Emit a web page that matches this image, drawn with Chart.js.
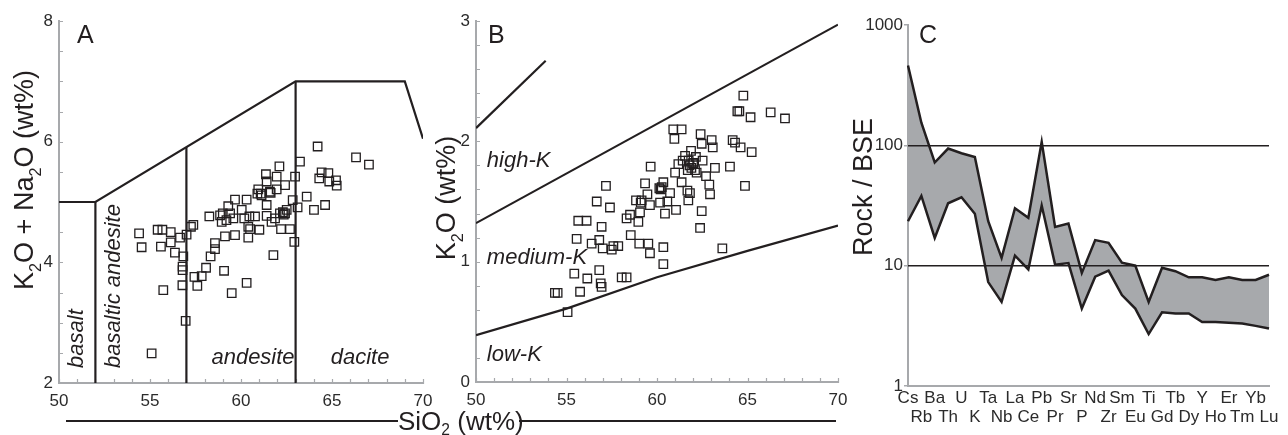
<!DOCTYPE html>
<html>
<head>
<meta charset="utf-8">
<script src="https://cdn.jsdelivr.net/npm/chart.js@4.4.1/dist/chart.umd.min.js"></script>
<style>
  html, body { margin: 0; padding: 0; background: #fff; }
  #wrap { position: relative; width: 1288px; height: 435px; overflow: hidden; }
  canvas { position: absolute; top: 0; }
  #siTitle { position: absolute; left: 66px; top: 406px; width: 770px; height: 30px;
             display: flex; align-items: center; white-space: nowrap;
             font: 26px "Liberation Sans", Arial, sans-serif; color: #231f20; }
  #siTitle .rule { height: 2px; background: #231f20; }
  #siTitle sub { font-size: 60%; vertical-align: -0.35em; line-height: 0; }
</style>
</head>
<body>
<div id="wrap">
  <canvas id="panelA" width="452" height="435" style="left:0"></canvas>
  <canvas id="panelB" width="430" height="435" style="left:430px"></canvas>
  <canvas id="panelC" width="438" height="435" style="left:850px"></canvas>
  <div id="siTitle"><div class="rule" style="width:332px"></div><span>SiO<sub>2</sub> (wt%)</span><div class="rule" style="flex:1;margin-left:-5px"></div></div>
</div>
<script>
// ---- A: total alkali vs silica ----
const sio2A = [54.40, 54.54, 55.09, 55.42, 55.68, 55.60, 55.73, 56.14, 56.14, 56.37, 56.65, 56.83, 56.79, 56.79,
  56.78, 56.96, 57.01, 57.25, 57.38, 57.44, 57.60, 57.84, 58.08, 58.26, 58.33, 58.57, 58.57, 58.85, 59.00, 58.94,
  59.07, 59.12, 59.30, 59.40, 59.49, 59.58, 59.67, 59.67, 60.04, 60.18, 60.31, 60.31, 60.40, 60.40, 60.46, 60.77,
  61.01, 60.90, 61.08, 61.37, 61.41, 61.59, 61.41, 61.41, 61.68, 61.78, 61.87, 61.96, 61.96, 62.11, 62.20, 62.42,
  62.42, 62.51, 62.69, 62.84, 62.97, 62.93, 63.11, 63.24, 63.61, 64.01, 64.21, 64.30, 64.43, 64.62, 64.80, 64.85,
  65.22, 65.26, 66.32, 67.03, 60.95, 61.13, 61.63, 62.14, 62.30, 62.35, 59.20, 60.50];
const alkA = [4.48, 4.25, 2.49, 4.54, 4.54, 4.26, 3.54, 4.50, 4.33, 4.16, 4.41, 4.10, 3.93, 3.87,
  3.62, 3.03, 4.46, 4.59, 4.62, 3.76, 3.61, 3.77, 3.91, 4.76, 4.10, 4.22, 4.32, 4.78, 4.81, 4.67,
  3.86, 4.43, 4.93, 4.81, 3.49, 4.73, 5.04, 4.45, 4.87, 4.73, 5.04, 3.66, 4.59, 4.41, 4.76, 4.76,
  4.54, 5.14, 5.14, 5.46, 5.34, 5.17, 4.95, 4.77, 4.67, 4.12, 4.73, 5.42, 5.21, 5.59, 4.55, 4.81,
  5.28, 4.87, 4.55, 5.03, 5.42, 4.34, 4.91, 5.67, 5.09, 4.87, 5.92, 5.39, 5.49, 4.95, 5.48, 5.34,
  5.36, 5.27, 5.74, 5.62, 5.21, 5.11, 5.15, 4.81, 4.83, 4.79, 4.70, 4.55];
// field boundaries [SiO2, alkali]
const tasOuter = [[50, 5], [52, 5], [63, 7], [69, 7], [70, 6.05]];
const tasDividers = [[[52, 2], [52, 5]], [[57, 2], [57, 5.91]], [[63, 2], [63, 7]]];

// ---- B: K2O vs silica ----
const sio2B = [54.36, 54.51, 55.06, 55.43, 55.56, 55.65, 56.11, 55.75, 56.15, 56.39, 56.67, 56.81, 56.81, 56.89,
  56.94, 56.94, 57.00, 57.18, 57.40, 57.50, 57.59, 57.86, 58.05, 58.32, 58.32, 58.51, 58.55, 58.84, 58.97, 59.02,
  59.06, 59.15, 59.34, 59.47, 59.52, 59.61, 59.61, 59.65, 60.13, 60.17, 60.26, 60.35, 60.35, 60.35, 60.44, 60.57,
  60.72, 60.90, 60.96, 61.00, 61.05, 61.18, 61.36, 61.36, 61.42, 61.55, 61.68, 61.73, 61.82, 61.88, 62.00, 62.10,
  62.15, 62.19, 62.38, 62.41, 62.47, 62.47, 62.52, 62.71, 62.89, 62.93, 63.02, 63.08, 63.20, 63.61, 64.03, 64.18,
  64.31, 64.44, 64.55, 64.62, 64.77, 64.86, 65.17, 65.23, 66.28, 67.07, 61.80, 61.90, 62.00, 61.70, 61.75, 60.20, 59.10];
const k2oB = [0.74, 0.74, 0.58, 0.90, 1.19, 1.34, 1.34, 0.75, 0.86, 1.15, 1.50, 0.93, 1.18, 0.82,
  0.79, 1.29, 1.11, 1.63, 1.45, 1.10, 1.13, 1.13, 0.87, 0.87, 1.36, 1.39, 1.22, 1.51, 1.33, 1.15,
  1.41, 1.51, 1.65, 1.56, 1.15, 1.07, 1.47, 1.79, 1.61, 1.49, 1.62, 1.66, 1.12, 0.98, 1.40, 1.50,
  1.57, 2.10, 2.02, 1.74, 1.43, 1.81, 2.10, 1.66, 1.84, 1.88, 1.59, 1.51, 1.57, 1.92, 1.81, 1.76,
  1.87, 1.74, 1.28, 2.06, 1.98, 1.42, 1.84, 1.71, 1.64, 1.56, 2.01, 1.95, 1.78, 1.11, 1.79, 2.01,
  1.99, 2.25, 2.25, 1.95, 2.38, 1.63, 2.20, 1.91, 2.24, 2.19, 1.80, 1.78, 1.82, 1.76, 1.84, 1.60, 1.49];
const shoshoniteLine = [[50, 2.11], [53.85, 2.67]];
const highKLine = [[50, 1.32], [70, 2.97]];
const lowKLine = [[50, 0.39], [55, 0.61], [60, 0.87], [65, 1.09], [70, 1.30]];

// ---- C: trace elements normalised to bulk silicate earth ----
const elements = ['Cs', 'Rb', 'Ba', 'Th', 'U', 'K', 'Ta', 'Nb', 'La', 'Ce', 'Pb', 'Pr', 'Sr', 'P',
  'Nd', 'Zr', 'Sm', 'Eu', 'Ti', 'Gd', 'Tb', 'Dy', 'Y', 'Ho', 'Er', 'Tm', 'Yb', 'Lu'];
const bseUpper = [460, 154, 72, 94, 86, 80, 23.4, 11.6, 30, 25, 107, 21, 22.4, 8.7,
  16.3, 15.5, 10.6, 10, 5.0, 9.6, 9.0, 8.0, 8.0, 7.6, 8.0, 7.6, 7.6, 8.4];
const bseLower = [23.4, 38, 17, 33, 37, 27, 7.3, 5.0, 12.1, 9.3, 31.6, 10.2, 10.5, 4.4,
  8.1, 9.1, 5.7, 4.4, 2.7, 4.1, 4.0, 4.0, 3.4, 3.4, 3.35, 3.3, 3.16, 3.0];

const INK = '#231f20';
const AXIS_GREY = '#a7a9ac';
const FONT = "'Liberation Sans', Arial, sans-serif";
Chart.defaults.font.family = FONT;
Chart.defaults.color = '#2b2b2b';

const pts = pairs => pairs.map(([x, y]) => ({ x, y }));
const lineSet = pairs => ({ data: pts(pairs), showLine: true, pointRadius: 0, borderColor: INK, borderWidth: 2.2, fill: false });
const sampleSet = (xs, ys) => ({
  data: xs.map((x, i) => ({ x, y: ys[i] })),
  pointStyle: 'rect', radius: 6, borderColor: INK, borderWidth: 1.3, backgroundColor: 'rgba(0,0,0,0)'
});

// pin axis box sizes so the plot areas line up across the three canvases
const fixBox = (w, h) => s => {
  if (w !== null) s.width = w;
  if (h !== null) s.height = h;
  s.paddingLeft = s.paddingRight = s.paddingTop = s.paddingBottom = 0;
};

// grey L-shaped axis frame plus small inward tick marks
const axisFrame = {
  id: 'axisFrame',
  beforeDatasetsDraw(chart, args, opts) {
    const { ctx, chartArea: a, scales: { x, y } } = chart;
    ctx.save();
    ctx.strokeStyle = AXIS_GREY;
    ctx.lineWidth = 2;
    ctx.beginPath();
    ctx.moveTo(a.left, a.top - 1);
    ctx.lineTo(a.left, a.bottom);
    ctx.lineTo(a.right + 1, a.bottom);
    ctx.stroke();
    if (opts.x) {
      ctx.lineWidth = 1.2;
      ctx.beginPath();
      for (let v = x.min; v <= x.max + 1e-9; v += opts.x) {
        const px = Math.round(x.getPixelForValue(v)) + 0.5;
        ctx.moveTo(px, a.bottom + 1); ctx.lineTo(px, a.bottom - 4);
      }
      for (let v = y.min; v <= y.max + 1e-9; v += opts.y) {
        const py = Math.round(y.getPixelForValue(v)) + 0.5;
        ctx.moveTo(a.left - 1, py); ctx.lineTo(a.left + 4, py);
      }
      ctx.stroke();
    }
    ctx.restore();
  }
};

// text with subscripts: parts beginning with '_' are lowered and shrunk
function drawRich(ctx, parts, size) {
  let w = 0;
  const runs = parts.map(p => {
    const sub = p.startsWith('_');
    const t = sub ? p.slice(1) : p;
    ctx.font = `${sub ? size * 0.6 : size}px ${FONT}`;
    const rw = ctx.measureText(t).width;
    w += rw;
    return { t, sub, rw };
  });
  let x = -w / 2;
  ctx.textAlign = 'left';
  ctx.textBaseline = 'alphabetic';
  for (const r of runs) {
    ctx.font = `${r.sub ? size * 0.6 : size}px ${FONT}`;
    ctx.fillText(r.t, x, r.sub ? size * 0.28 : 0);
    x += r.rw;
  }
}

// axis title, panel letter and field names
const annotate = {
  id: 'annotate',
  afterDatasetsDraw(chart, args, opts) {
    const { ctx, scales: { x, y } } = chart;
    ctx.save();
    ctx.fillStyle = INK;
    if (opts.title) {
      const t = opts.title;
      ctx.save();
      ctx.translate(t.x, t.y);
      ctx.rotate(-Math.PI / 2);
      drawRich(ctx, t.parts, 27);
      ctx.restore();
    }
    if (opts.letter) {
      ctx.font = `25px ${FONT}`;
      ctx.textAlign = 'left';
      ctx.textBaseline = 'alphabetic';
      ctx.fillText(opts.letter.text, opts.letter.x, opts.letter.y);
    }
    ctx.font = `italic 22px ${FONT}`;
    ctx.textBaseline = 'middle';
    for (const f of opts.fields || []) {
      const px = x.getPixelForValue(f.x), py = y.getPixelForValue(f.y);
      ctx.save();
      ctx.translate(px, py);
      if (f.upright) ctx.rotate(-Math.PI / 2);
      ctx.textAlign = f.align || 'center';
      ctx.fillText(f.text, 0, 0);
      ctx.restore();
    }
    ctx.restore();
  }
};

const baseOpts = {
  responsive: false,
  animation: false,
  devicePixelRatio: 1,
  events: []
};
const linAxis = (min, max, step, pad, fit) => ({
  min, max,
  ticks: { stepSize: step, padding: pad, font: { size: 17 } },
  grid: { display: false, drawTicks: false },
  border: { display: false },
  afterFit: fit
});

new Chart(document.getElementById('panelA'), {
  type: 'scatter',
  data: {
    datasets: [lineSet(tasOuter), ...tasDividers.map(lineSet), sampleSet(sio2A, alkA)]
  },
  options: {
    ...baseOpts,
    layout: { padding: { left: 0, top: 21, right: 29, bottom: 0 } },
    plugins: {
      legend: { display: false },
      tooltip: { enabled: false },
      axisFrame: { x: 1, y: 0.5 },
      annotate: {
        title: { parts: ['K', '_2', 'O + Na', '_2', 'O (wt%)'], x: 33, y: 180 },
        letter: { text: 'A', x: 77, y: 43 },
        fields: [
          { text: 'basalt', x: 51.0, y: 2.25, upright: true, align: 'left' },
          { text: 'basaltic andesite', x: 53.02, y: 2.25, upright: true, align: 'left' },
          { text: 'andesite', x: 60.66, y: 2.41 },
          { text: 'dacite', x: 66.54, y: 2.41 }
        ]
      }
    },
    scales: {
      x: linAxis(50, 70, 5, 8, fixBox(null, 52)),
      y: linAxis(2, 8, 2, 6, fixBox(59, null))
    }
  },
  plugins: [axisFrame, annotate]
});

new Chart(document.getElementById('panelB'), {
  type: 'scatter',
  data: {
    datasets: [lineSet(shoshoniteLine), lineSet(highKLine), lineSet(lowKLine), sampleSet(sio2B, k2oB)]
  },
  options: {
    ...baseOpts,
    layout: { padding: { left: 0, top: 21, right: 22, bottom: 0 } },
    plugins: {
      legend: { display: false },
      tooltip: { enabled: false },
      axisFrame: { x: 1, y: 0.2 },
      annotate: {
        title: { parts: ['K', '_2', 'O (wt%)'], x: 25, y: 198 },
        letter: { text: 'B', x: 58, y: 43 },
        fields: [
          { text: 'high-K', x: 50.6, y: 1.84, align: 'left' },
          { text: 'medium-K', x: 50.6, y: 1.03, align: 'left' },
          { text: 'low-K', x: 50.6, y: 0.225, align: 'left' }
        ]
      }
    },
    scales: {
      x: linAxis(50, 70, 5, 8, fixBox(null, 53)),
      y: linAxis(0, 3, 1, 6, fixBox(46, null))
    }
  },
  plugins: [axisFrame, annotate]
});

new Chart(document.getElementById('panelC'), {
  type: 'line',
  data: {
    labels: elements,
    datasets: [
      { data: bseUpper, borderColor: INK, borderWidth: 2.5, pointRadius: 0, tension: 0,
        fill: '+1', backgroundColor: '#a7a9ac' },
      { data: bseLower, borderColor: INK, borderWidth: 2.5, pointRadius: 0, tension: 0, fill: false }
    ]
  },
  options: {
    ...baseOpts,
    layout: { padding: { left: 0, top: 25, right: 19, bottom: 0 } },
    plugins: {
      legend: { display: false },
      tooltip: { enabled: false },
      filler: { drawTime: 'beforeDatasetsDraw' },
      axisFrame: {},
      annotate: {
        title: { parts: ['Rock / BSE'], x: 22, y: 187 },
        letter: { text: 'C', x: 69, y: 43 }
      }
    },
    scales: {
      x: {
        offset: false,
        ticks: {
          autoSkip: false, maxRotation: 0, minRotation: 0, padding: 3,
          font: { size: 17, lineHeight: 1.12 },
          // alternate element names between two rows
          callback: (v, i) => i % 2 === 0 ? [elements[i], ''] : ['', elements[i]]
        },
        grid: { display: false, drawTicks: false },
        border: { display: false },
        afterFit: fixBox(null, 49)
      },
      y: {
        type: 'logarithmic',
        min: 1, max: 1000,
        afterBuildTicks: s => { s.ticks = [1, 10, 100, 1000].map(value => ({ value })); },
        ticks: { padding: 1, font: { size: 17 }, callback: v => String(v) },
        grid: {
          z: 1,
          drawTicks: true, tickLength: 4, tickColor: AXIS_GREY,
          lineWidth: 1.5,
          color: c => (c.tick && (c.tick.value === 10 || c.tick.value === 100)) ? INK : 'rgba(0,0,0,0)'
        },
        border: { display: false },
        afterFit: fixBox(58, null)
      }
    }
  },
  plugins: [axisFrame, annotate]
});
</script>
</body>
</html>
